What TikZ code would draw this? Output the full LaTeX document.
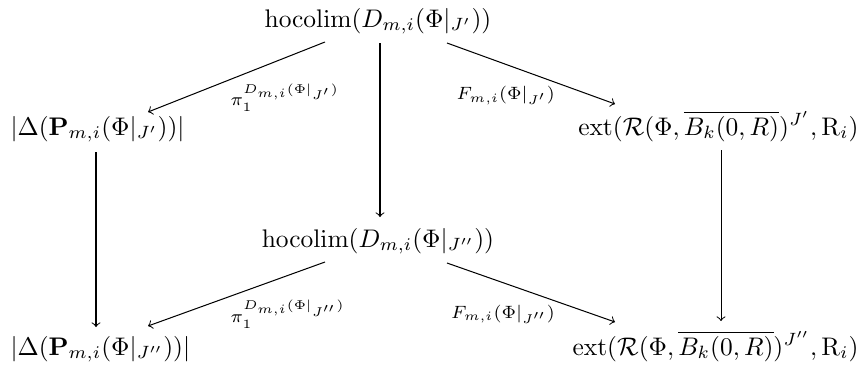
\documentclass[tikz,border=0pt]{standalone}
\usepackage{amsmath}
\usetikzlibrary{calc}

\begin{document}
\begin{tikzpicture}[x=0.393pt, y=-0.393pt, >=to]
        % Style definitions
        \tikzset{
            obj/.style={inner sep=0pt, anchor=base},
            objw/.style={inner sep=0pt, anchor=base west},
            obje/.style={inner sep=0pt, anchor=base east},
            map/.style={->, line width=0.4pt},
            lab/.style={inner sep=1pt, font=\scriptsize}
        }
        \useasboundingbox (0,0) rectangle (861,364);

        % Objects
        \node [obj] (top) at (378,27) {$\operatorname{hocolim}(D_{m,i}(\Phi|_{J'}))$};
        \node [objw] (simpA) at (10,135) {$|\Delta(\mathbf{P}_{m,i}(\Phi|_{J'}))|$};
        \node [obje] (extA) at (859,135) {$\operatorname{ext}(\mathcal{R}(\Phi,\overline{B_k(0,R)})^{J'},\mathrm{R}_i)$};
        \node [obj] (mid) at (378,247) {$\operatorname{hocolim}(D_{m,i}(\Phi|_{J''}))$};
        \node [objw] (simpB) at (10,355) {$|\Delta(\mathbf{P}_{m,i}(\Phi|_{J''}))|$};
        \node [obje] (extB) at (859,355) {$\operatorname{ext}(\mathcal{R}(\Phi,\overline{B_k(0,R)})^{J''},\mathrm{R}_i)$};

        % Maps out of the upper colimit
        \draw [map] ($(top.base)+(-53,15)$) -- node [lab, below right, pos=0.55] {$\pi_1^{D_{m,i}(\Phi|_{J'})}$} ($(simpA.base west)+(138,-23)$);
        \draw [map] ($(top.base)+(69,16)$) -- node [lab, below left, pos=0.66] {$F_{m,i}(\Phi|_{J'})$} ($(extA.base east)+(-244,-31)$);
        \draw [map] ($(top.base)+(2,16)$) -- ($(mid.base)+(2,-30)$);

        % Vertical maps
        \draw [map] ($(simpA.base west)+(86,17)$) -- ($(simpB.base west)+(86,-28)$);
        \draw [map] ($(extA.base east)+(-138,15)$) -- ($(extB.base east)+(-138,-34)$);

        % Maps out of the lower colimit
        \draw [map] ($(mid.base)+(-53,15)$) -- node [lab, below right, pos=0.55] {$\pi_1^{D_{m,i}(\Phi|_{J''})}$} ($(simpB.base west)+(138,-29)$);
        \draw [map] ($(mid.base)+(69,16)$) -- node [lab, below left, pos=0.66] {$F_{m,i}(\Phi|_{J''})$} ($(extB.base east)+(-244,-33)$);
    \end{tikzpicture}
\end{document}
